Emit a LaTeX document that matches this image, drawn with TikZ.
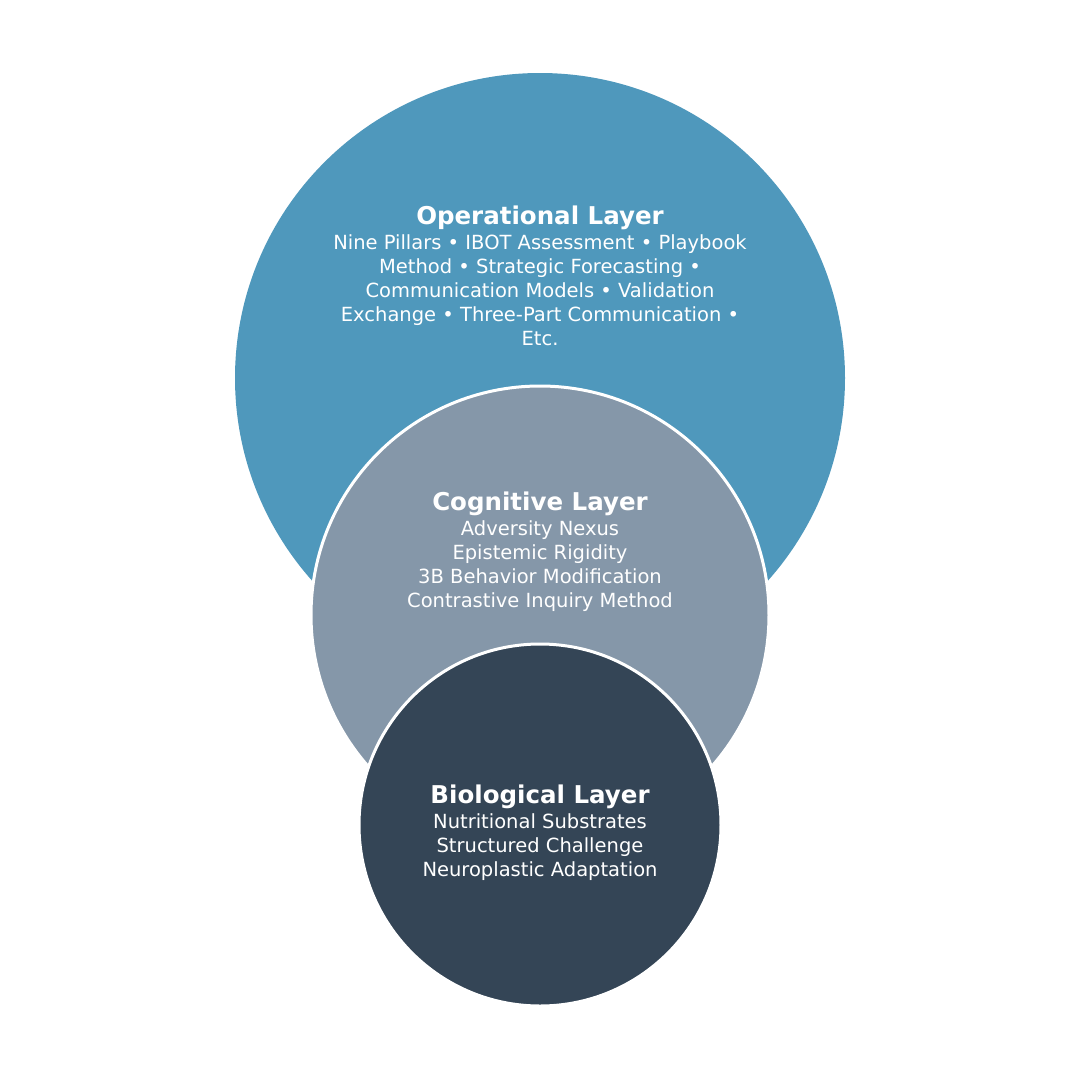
\documentclass[tikz,border=0pt]{standalone}
\usepackage{fontspec}
\setmainfont{DejaVu Sans}
\definecolor{opc}{HTML}{4F98BC}
\definecolor{cogc}{HTML}{8597A9}
\definecolor{bioc}{HTML}{344556}
\begin{document}
\begin{tikzpicture}[x=1pt,y=-1pt,
  layer/.style={circle,draw=white,line width=3pt,inner sep=0pt},
  ttl/.style={text=white,font=\fontsize{24.5}{27}\selectfont\bfseries,anchor=center},
  body/.style={text=white,font=\fontsize{19.5}{24}\selectfont,align=center,anchor=north}]
\useasboundingbox (0,0) rectangle (1080,1080);
\node[layer,draw=none,fill=opc,minimum size=610pt] (op) at (540,378) {};
\node[layer,fill=cogc,minimum size=458pt] (cog) at (540,615) {};
\node[layer,fill=bioc,minimum size=362pt] (bio) at (540,825) {};
\node[ttl] (opt) at (540,218) {Operational Layer};
\node[body] (opb) at (540,231) {Nine Pillars • IBOT Assessment • Playbook\\Method • Strategic Forecasting •\\Communication Models • Validation\\Exchange • Three-Part Communication •\\Etc.};
\node[ttl] (cogt) at (540,504) {Cognitive Layer};
\node[body] (cogb) at (540,517) {Adversity Nexus\\Epistemic Rigidity\\3B Behavior Modification\\Contrastive Inquiry Method};
\node[ttl] (biot) at (540,797) {Biological Layer};
\node[body] (biob) at (540,810) {Nutritional Substrates\\Structured Challenge\\Neuroplastic Adaptation};
\end{tikzpicture}
\end{document}
